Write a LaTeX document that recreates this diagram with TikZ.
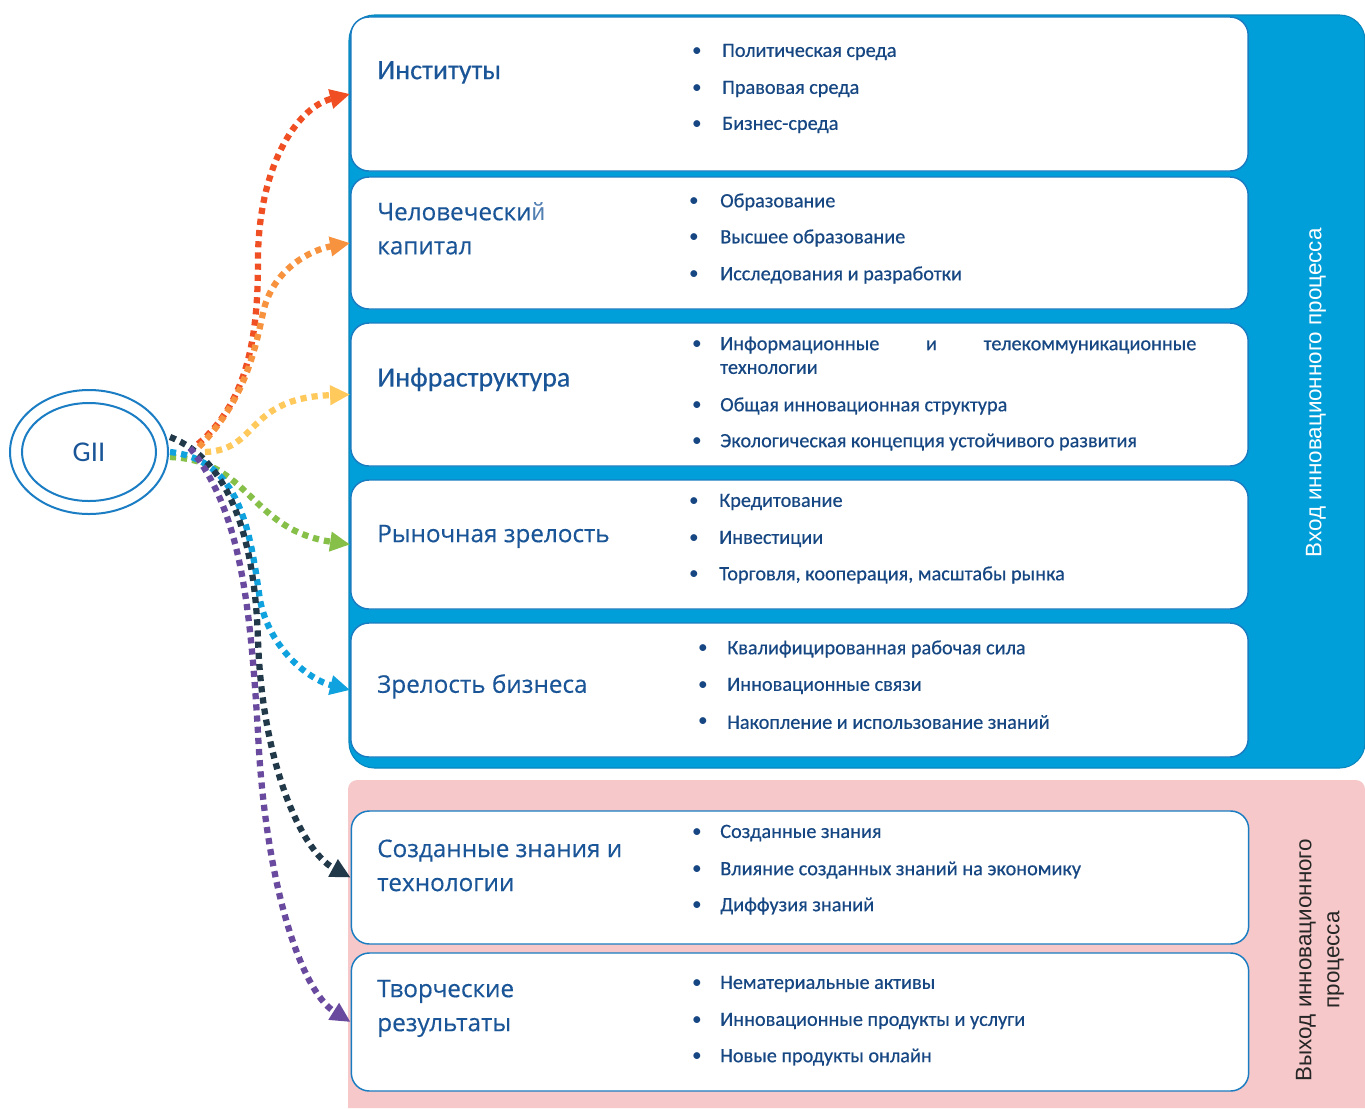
\documentclass[tikz,border=0pt]{standalone}
\usepackage{fontspec}
\setmainfont{Carlito}
\newfontfamily\osans[FakeBold=0.35]{Open Sans}
\newfontfamily\lsans{Liberation Sans}
\newfontfamily\itemfont[FakeBold=0.5]{Carlito}
\newfontfamily\ttlfont[FakeBold=0.3]{Carlito}
\usetikzlibrary{arrows.meta,shapes.geometric}
\definecolor{panelblue}{HTML}{009FDA}
\definecolor{paneledge}{HTML}{0A86BE}
\definecolor{panelpink}{HTML}{F6C8C9}
\definecolor{boxedge}{HTML}{1A7CC1}
\definecolor{titlecol}{HTML}{1A5598}
\definecolor{itemcol}{HTML}{174783}
\definecolor{giicol}{HTML}{1B7DC3}
\definecolor{cred}{HTML}{F04E23}
\definecolor{corange}{HTML}{F7923E}
\definecolor{cyellow}{HTML}{FFC95C}
\definecolor{cgreen}{HTML}{86C049}
\definecolor{ccyan}{HTML}{0FA2DE}
\definecolor{cnavy}{HTML}{22394A}
\definecolor{cpurple}{HTML}{6A4A9E}
\begin{document}
\begin{tikzpicture}[x=0.75pt,y=-0.75pt,
  box/.style={draw=boxedge, line width=1.1pt, fill=white, rounded corners=13.5pt,
    minimum width=673pt, inner sep=0pt},
  ttl/.style={anchor=west, inner sep=0pt, text=titlecol, align=left, yshift=-1.8pt,
    font=\osans\fontsize{18.2}{25.5}\selectfont},
  ttlc/.style={anchor=west, inner sep=0pt, text=titlecol, align=left, yshift=-1.8pt,
    font=\ttlfont\fontsize{21}{25.5}\selectfont},
  itm/.style={anchor=west, inner sep=0pt, text=itemcol, yshift=-1.5pt,
    font=\itemfont\fontsize{15.2}{17}\selectfont},
  bul/.style={anchor=center, inner sep=0pt, text=itemcol, yshift=-1.2pt,
    font=\fontsize{14.5}{17}\selectfont},
  conn/.style={line width=4.7pt, dash pattern=on 4.6pt off 3.8pt,
    -{Triangle[length=15pt,width=14pt]}},
  side/.style={rotate=90, anchor=center, align=center, inner sep=0pt,
    font=\lsans\fontsize{16.8}{21}\selectfont}]
\useasboundingbox (0,0) rectangle (1365,1108);
\fill[white] (0,0) rectangle (1365,1108);
% panels
\path[fill=panelblue, draw=paneledge, line width=0.8pt, rounded corners=19pt]
  (349,15) rectangle (1365,768);
\path[fill=panelpink] (348,1108) [rounded corners=7pt] -- (348,780) -- (1365,780)
  [sharp corners] -- (1365,1108) -- cycle;
% boxes
\node[box, minimum height=115.5pt] (b1) at (799.5,94) {};
\node[box, minimum height=99pt]    (b2) at (799.5,243) {};
\node[box, minimum height=107.25pt](b3) at (799.5,394.5) {};
\node[box, minimum height=96.75pt] (b4) at (799.5,544.5) {};
\node[box, minimum height=100.5pt] (b5) at (799.5,690) {};
\node[box, minimum height=99.75pt] (b6) at (800,877.5) {};
\node[box, minimum height=103.5pt] (b7) at (800,1022) {};
% titles
\node[ttlc] (t1) at (377,70) {Институты};
\node[ttl]  (t2) at (377,226) {Человечески{\lsans\color{titlecol!75}й}\\капитал};
\node[ttlc] (t3) at (377,377) {Инфраструктура};
\node[ttl]  (t4) at (377,534) {Рыночная зрелость};
\node[ttl]  (t5) at (377,684) {Зрелость бизнеса};
\node[ttl]  (t6) at (377,863) {Созданные знания и\\технологии};
\node[ttl]  (t7) at (377,1006) {Творческие\\результаты};
% items box 1
\node[bul] (u11) at (697,50) {•};  \node[itm] (i11) at (722,50) {Политическая среда};
\node[bul] (u12) at (697,87) {•};  \node[itm] (i12) at (722,87) {Правовая среда};
\node[bul] (u13) at (697,123) {•}; \node[itm] (i13) at (722,123) {Бизнес-среда};
% box 2
\node[bul] (u21) at (694,200) {•}; \node[itm] (i21) at (720,200) {Образование};
\node[bul] (u22) at (694,236) {•}; \node[itm] (i22) at (720,236) {Высшее образование};
\node[bul] (u23) at (694,273) {•}; \node[itm] (i23) at (720,273) {Исследования и разработки};
% box 3
\node[bul] (u31) at (697,343) {•};
\node[itm] (i31) at (720,343) {\hbox to 357pt{Информационные\hfill и\hfill телекоммуникационные}};
\node[itm] (i31b) at (720,367) {технологии};
\node[bul] (u32) at (697,404) {•}; \node[itm] (i32) at (720,404) {Общая инновационная структура};
\node[bul] (u33) at (697,440) {•}; \node[itm] (i33) at (720,440) {Экологическая концепция устойчивого развития};
% box 4
\node[bul] (u41) at (694,500) {•}; \node[itm] (i41) at (719,500) {Кредитование};
\node[bul] (u42) at (694,537) {•}; \node[itm] (i42) at (719,537) {Инвестиции};
\node[bul] (u43) at (694,573) {•}; \node[itm] (i43) at (719,573) {Торговля, кооперация, масштабы рынка};
% box 5
\node[bul] (u51) at (703,647) {•}; \node[itm] (i51) at (727,647) {Квалифицированная рабочая сила};
\node[bul] (u52) at (703,684) {•}; \node[itm] (i52) at (727,684) {Инновационные связи};
\node[bul] (u53) at (703,720) {•}; \node[itm] (i53) at (727,720) {Накопление и использование знаний};
% box 6
\node[bul] (u61) at (697,831) {•}; \node[itm] (i61) at (720,831) {Созданные знания};
\node[bul] (u62) at (697,868) {•}; \node[itm] (i62) at (720,868) {Влияние созданных знаний на экономику};
\node[bul] (u63) at (697,904) {•}; \node[itm] (i63) at (720,904) {Диффузия знаний};
% box 7
\node[bul] (u71) at (697,982) {•};  \node[itm] (i71) at (720,982) {Нематериальные активы};
\node[bul] (u72) at (697,1019) {•}; \node[itm] (i72) at (720,1019) {Инновационные продукты и услуги};
\node[bul] (u73) at (697,1055) {•}; \node[itm] (i73) at (720,1055) {Новые продукты онлайн};
% side labels
\node[side, text=white] (sin) at (1316,393) {Вход инновационного процесса};
\node[side, text=black!85] (sout) at (1320,960) {Выход инновационного\\процесса};
% GII
\node[ellipse, draw=giicol, line width=1.5pt, minimum width=118.5pt, minimum height=93pt] (gii) at (89,452) {};
\node[ellipse, draw=giicol, line width=1.5pt, minimum width=100.5pt, minimum height=73.5pt,
  text=titlecol, font=\fontsize{21.5}{24}\selectfont] (giin) at (89,452) {GII};
% connector start points
\coordinate (s1) at (198,444);
\coordinate (s2) at (199,447);
\coordinate (s3) at (205,452);
\coordinate (s4) at (170,457);
\coordinate (s5) at (170,452);
\coordinate (s6) at (170,437);
\coordinate (s7) at (190,448);
% connectors
\draw[conn, color=cred] (s1) .. controls (250,400) and (258,330) .. (258,260)
  .. controls (258,170) and (295,108) .. (b1.west);
\draw[conn, color=corange] (s2) .. controls (245,400) and (255,350) .. (263,313)
  .. controls (272,270) and (310,250) .. (b2.west);
\draw[conn, color=cyellow] (s3) .. controls (260,450) and (245,398) .. (b3.west);
\draw[conn, color=cgreen] (s4) .. controls (250,460) and (250,530) .. (b4.west);
\draw[conn, color=ccyan] (s5) .. controls (240,460) and (250,530) .. (260,600)
  .. controls (270,650) and (310,680) .. (b5.west);
\draw[conn, color=cnavy] (s6) .. controls (230,460) and (255,540) .. (258,640)
  .. controls (262,760) and (300,850) .. (b6.west);
\draw[conn, color=cpurple] (s7) .. controls (240,510) and (250,600) .. (258,733)
  .. controls (265,880) and (300,990) .. (b7.west);
\end{tikzpicture}
\end{document}
